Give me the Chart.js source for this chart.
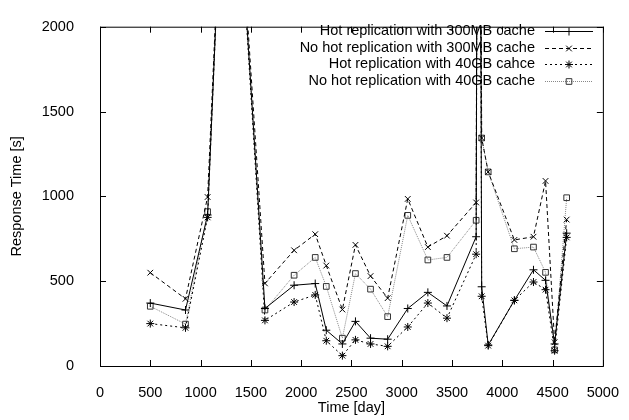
<!DOCTYPE html>
<html>
<head>
<meta charset="utf-8">
<script src="https://cdn.jsdelivr.net/npm/chart.js@4/dist/chart.umd.min.js"></script>
<style>
  html, body { margin: 0; padding: 0; background: #fff; }
  #wrap { width: 629px; height: 420px; }
</style>
</head>
<body>
<div id="wrap"><canvas id="rtChart"></canvas></div>
<script>
// days on the x axis (shared by all four runs)
const days = [500, 850, 1070, 1275, 1640, 1930, 2140, 2250, 2410, 2540, 2690, 2860,
              3060, 3260, 3450, 3740, 3765, 3795, 3860, 4120, 4310, 4430, 4520, 4640];

// response times in seconds (peaks run past the top)
const hot300 =   [371, 330, 890, 3750, 339, 476, 486, 211, 130, 263, 164, 158,
                  339, 434, 354, 762, 6000, 467, 124, 387, 567, 505, 130, 783];
const noHot300 = [550, 396, 996, 3750, 487, 682, 777, 592, 333, 714, 530, 400,
                  985, 701, 768, 964, 6000, 1344, 1144, 743, 762, 1091, 140, 863];
const hot40 =    [250, 225, 876, 3750, 269, 377, 419, 149, 61, 154, 130, 116,
                  230, 371, 282, 659, 6000, 411, 120, 387, 495, 450, 90, 758];
const noHot40 =  [352, 247, 910, 3750, 330, 535, 640, 469, 164, 545, 453, 291,
                  888, 625, 640, 859, 6000, 1344, 1144, 691, 701, 552, 95, 992];

const xTicks = [0, 500, 1000, 1500, 2000, 2500, 3000, 3500, 4000, 4500, 5000];
const yTicks = [0, 500, 1000, 1500, 2000];

const labels = [
    'Hot replication with 300MB cache',
    'No hot replication with 300MB cache',
    'Hot replication with 40GB cahce',
    'No hot replication with 40GB cache'
];

const FONT = "'Liberation Sans', Arial, sans-serif";
const FONT_SIZE = 14.5;

function toPoints(vals) {
    return vals.map((v, i) => ({ x: days[i], y: v }));
}

function series(label, vals, color, dash, style) {
    return {
        label: label,
        data: toPoints(vals),
        borderColor: color,
        borderWidth: 1,
        borderDash: dash,
        pointStyle: style,
        pointRadius: 4,
        pointBorderWidth: 1,
        pointBorderColor: style === 'rect' ? '#333' : '#000',
        pointBackgroundColor: 'rgba(0,0,0,0)',
        tension: 0,
        fill: false
    };
}

// gnuplot-ish frame: box, inward ticks on all four sides, legend top right
const framePlugin = {
    id: 'frame',
    afterDatasetsDraw(chart) {
        const { ctx, chartArea: a, scales } = chart;
        ctx.save();
        ctx.strokeStyle = '#000';
        ctx.lineWidth = 1;
        ctx.setLineDash([]);
        ctx.strokeRect(a.left + 0.5, a.top + 0.5, a.right - a.left, a.bottom - a.top);
        const t = 6;
        ctx.beginPath();
        xTicks.forEach(v => {
            const px = Math.round(scales.x.getPixelForValue(v)) + 0.5;
            ctx.moveTo(px, a.bottom); ctx.lineTo(px, a.bottom - t);
            ctx.moveTo(px, a.top); ctx.lineTo(px, a.top + t);
        });
        yTicks.forEach(v => {
            const py = Math.round(scales.y.getPixelForValue(v)) + 0.5;
            ctx.moveTo(a.left, py); ctx.lineTo(a.left + t, py);
            ctx.moveTo(a.right, py); ctx.lineTo(a.right - t, py);
        });
        ctx.stroke();

        // legend
        ctx.font = FONT_SIZE + 'px ' + FONT;
        ctx.textAlign = 'right';
        ctx.textBaseline = 'middle';
        const textRight = 535, x0 = 545, x1 = 593;
        chart.data.datasets.forEach((ds, i) => {
            const y = 31 + i * 16.7;
            ctx.fillStyle = '#000';
            ctx.fillText(ds.label, textRight, y);
            ctx.strokeStyle = ds.borderColor;
            ctx.setLineDash(ds.borderDash);
            ctx.beginPath();
            ctx.moveTo(x0, Math.round(y) + 0.5);
            ctx.lineTo(x1, Math.round(y) + 0.5);
            ctx.stroke();
            ctx.setLineDash([]);
            ctx.strokeStyle = ds.pointBorderColor;
            ctx.fillStyle = 'rgba(0,0,0,0)';
            Chart.helpers.drawPoint(ctx, { pointStyle: ds.pointStyle, radius: 4, rotation: 0, borderWidth: 1 },
                                    (x0 + x1) / 2, Math.round(y) + 0.5);
        });
        ctx.restore();
    }
};

document.addEventListener('DOMContentLoaded', () => {
    const ctx = document.getElementById('rtChart');

    new Chart(ctx, {
        type: 'line',
        data: {
            datasets: [
                series(labels[0], hot300, '#000', [], 'cross'),
                series(labels[1], noHot300, '#000', [4, 3], 'crossRot'),
                series(labels[2], hot40, '#000', [2, 3], 'star'),
                series(labels[3], noHot40, '#888', [1, 1], 'rect')
            ]
        },
        options: {
            responsive: true,
            maintainAspectRatio: false,
            animation: false,
            layout: { padding: { top: 16, right: 16, left: 0, bottom: 0 } },
            plugins: {
                legend: { display: false },
                tooltip: { enabled: false }
            },
            scales: {
                x: {
                    type: 'linear',
                    min: 0,
                    max: 5000,
                    afterFit: s => { s.height = 54; },
                    afterBuildTicks: s => { s.ticks = xTicks.map(v => ({ value: v })); },
                    grid: { display: false },
                    border: { display: false },
                    ticks: {
                        color: '#000',
                        padding: 10,
                        maxRotation: 0,
                        callback: v => String(v),
                        font: { family: FONT, size: FONT_SIZE }
                    },
                    title: {
                        display: true,
                        text: 'Time [day]',
                        color: '#000',
                        padding: { top: 0, bottom: 3 },
                        font: { family: FONT, size: FONT_SIZE }
                    }
                },
                y: {
                    min: 0,
                    max: 2000,
                    afterFit: s => { s.width = 100; },
                    afterBuildTicks: s => { s.ticks = yTicks.map(v => ({ value: v })); },
                    grid: { display: false },
                    border: { display: false },
                    ticks: {
                        color: '#000',
                        padding: 18,
                        callback: v => String(v),
                        font: { family: FONT, size: FONT_SIZE }
                    },
                    title: {
                        display: true,
                        text: 'Response Time [s]',
                        color: '#000',
                        padding: { top: 8, bottom: 0 },
                        font: { family: FONT, size: FONT_SIZE }
                    }
                }
            }
        },
        plugins: [framePlugin]
    });
});
</script>
</body>
</html>
